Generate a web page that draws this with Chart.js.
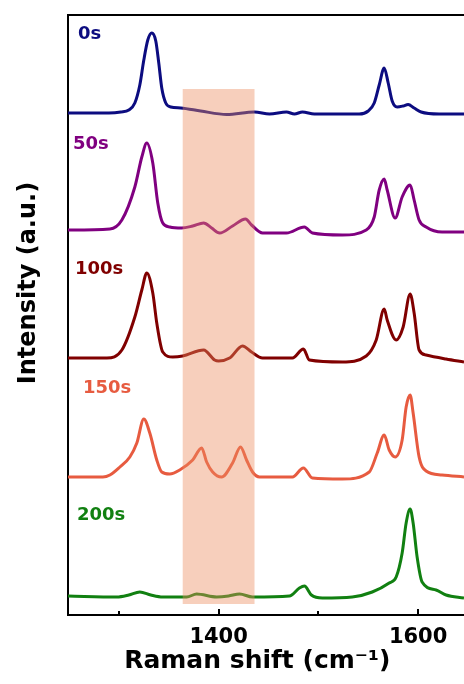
<!DOCTYPE html>
<html>
<head>
<meta charset="utf-8">
<script src="https://cdn.jsdelivr.net/npm/chart.js@4/dist/chart.umd.min.js"></script>
<style>
  html, body { margin: 0; padding: 0; background: #ffffff; }
  #wrap { width: 464px; height: 684px; }
</style>
</head>
<body>
<div id="wrap"><canvas id="c" width="464" height="684"></canvas></div>
<script>
// ---------- data ----------
const seriesNames = ['0s', '50s', '100s', '150s', '200s'];

// [Raman shift (cm-1), intensity (a.u., offset as plotted)]
const spectrum0s = [[1249,502],[1290,502],[1302,503],[1310,505],[1316,512],[1321,530],[1325,555],[1329,575],[1333,582],[1337,574],[1340,552],[1343,527],[1347,512],[1352,508],[1362,507],[1382,504],[1408,500.5],[1436,503],[1451,501],[1468,503],[1476,501],[1484,503],[1496,501],[1541,501],[1550,504],[1556,512],[1561,530],[1566,547],[1570,532],[1574,514],[1579,508],[1585,509],[1590,510.5],[1596,507],[1603,503],[1621,501],[1646,501]];
const spectrum50s = [[1249,385],[1291,386],[1303,395],[1316,428],[1323,458],[1328,472],[1334,452],[1339,412],[1344,392],[1351,388],[1363,387],[1374,389],[1385,392],[1393,387],[1401,382],[1414,389],[1427,396],[1433,390],[1444,382],[1468,382],[1486,388],[1494,382],[1524,380],[1548,385],[1556,398],[1561,425],[1566,436],[1569,425],[1577,397],[1584,418],[1592,430],[1596,415],[1601,395],[1608,388],[1624,383],[1646,383]];
const spectrum100s = [[1249,257],[1288,257],[1303,265],[1316,298],[1323,325],[1328,342],[1334,322],[1338,292],[1344,263],[1354,258],[1364,259],[1385,265],[1396,255],[1400,254],[1411,257],[1424,269],[1433,263],[1444,257],[1474,257],[1485,266],[1491,255],[1524,253],[1548,259],[1558,275],[1566,306],[1569,295],[1578,275],[1585,288],[1592,321],[1596,302],[1601,265],[1608,260],[1628,256],[1646,253]];
const spectrum150s = [[1249,138],[1284,138],[1291,140],[1301,148],[1311,158],[1318,172],[1325,196],[1331,182],[1338,155],[1343,143],[1351,141],[1361,145],[1374,155],[1383,167],[1388,153],[1394,143],[1403,138],[1414,152],[1422,168],[1428,155],[1434,143],[1441,138],[1474,138],[1485,147],[1494,137],[1524,136],[1551,143],[1559,162],[1566,180],[1571,165],[1577,158],[1584,175],[1588,208],[1592,220],[1595,202],[1601,158],[1608,144],[1624,140],[1646,138]];
const spectrum200s = [[1249,19],[1298,18],[1310,20],[1321,23],[1332,20],[1344,18],[1368,18],[1378,21],[1398,18],[1410,19],[1421,21],[1434,18],[1471,19],[1481,27],[1486,29],[1493,20],[1504,17],[1534,18],[1554,23],[1571,32],[1578,38],[1584,62],[1588,92],[1592,106],[1595,92],[1599,58],[1604,33],[1618,25],[1628,20],[1646,17]];

const tickValues = [1300, 1400, 1500, 1600];
const labelledTicks = [1400, 1600];
const bandShift = [1364, 1436];      // highlighted Raman-shift band
const bandIntensity = [11, 526];     // its vertical extent (a.u.)

// ---------- styles ----------
const colors = ['#0c0c80', '#800080', '#800000', '#e75b40', '#118011'];
const FONT = 'DejaVu Sans';
// label anchor points in data coordinates (left, baseline)
const labelAnchors = [[1259,576],[1254,466],[1256,341],[1264,222],[1258,95]];

const spectra = [spectrum0s, spectrum50s, spectrum100s, spectrum150s, spectrum200s];

const decorPlugin = {
  id: 'decor',
  afterDatasetsDraw(chart) {
    const { ctx, chartArea: a, scales: { x, y } } = chart;
    ctx.save();
    // highlighted band drawn over the lines
    ctx.fillStyle = 'rgba(235,140,95,0.42)';
    const bx0 = x.getPixelForValue(bandShift[0]), bx1 = x.getPixelForValue(bandShift[1]);
    const by0 = y.getPixelForValue(bandIntensity[1]), by1 = y.getPixelForValue(bandIntensity[0]);
    ctx.fillRect(bx0, by0, bx1 - bx0, by1 - by0);
    // top frame line
    ctx.strokeStyle = '#000';
    ctx.lineWidth = 2;
    ctx.beginPath();
    ctx.moveTo(a.left - 1, a.top);
    ctx.lineTo(a.right, a.top);
    ctx.stroke();
    // inward ticks
    tickValues.forEach(v => {
      const px = Math.round(x.getPixelForValue(v));
      const len = labelledTicks.includes(v) ? 6 : 4;
      ctx.beginPath();
      ctx.moveTo(px, a.bottom);
      ctx.lineTo(px, a.bottom - len);
      ctx.stroke();
    });
    // series labels
    ctx.font = 'bold 18px "' + FONT + '"';
    ctx.textAlign = 'left';
    ctx.textBaseline = 'alphabetic';
    seriesNames.forEach((n, i) => {
      ctx.fillStyle = colors[i];
      ctx.fillText(n, x.getPixelForValue(labelAnchors[i][0]), y.getPixelForValue(labelAnchors[i][1]));
    });
    // y axis title
    ctx.fillStyle = '#000';
    ctx.font = 'bold 24px "' + FONT + '"';
    ctx.translate(28.5, 283);
    ctx.rotate(-Math.PI / 2);
    ctx.textAlign = 'center';
    ctx.textBaseline = 'middle';
    ctx.fillText('Intensity (a.u.)', 0, 0);
    ctx.restore();
  }
};

new Chart(document.getElementById('c'), {
  type: 'line',
  data: {
    datasets: spectra.map((s, i) => ({
      label: seriesNames[i],
      data: s.map(p => ({ x: p[0], y: p[1] })),
      borderColor: colors[i],
      borderWidth: 3,
      pointRadius: 0,
      fill: false,
      cubicInterpolationMode: 'monotone'
    }))
  },
  options: {
    responsive: false,
    animation: false,
    devicePixelRatio: 1,
    layout: { padding: { left: 68, top: 15, right: 0, bottom: 0 } },
    plugins: { legend: { display: false }, tooltip: { enabled: false } },
    scales: {
      x: {
        type: 'linear',
        min: 1249,
        max: 1646,
        afterBuildTicks: (scale) => { scale.ticks = tickValues.map(v => ({ value: v })); },
        grid: { display: false, drawTicks: false },
        border: { display: true, color: '#000', width: 2 },
        ticks: {
          color: '#000',
          padding: 10,
          maxRotation: 0,
          autoSkip: false,
          font: { family: FONT, size: 21, weight: 'bold', lineHeight: 1.2 },
          callback: (v) => labelledTicks.includes(v) ? String(v) : ''
        },
        title: {
          display: true,
          text: 'Raman shift (cm\u207B\u00B9)  ',
          color: '#000',
          padding: { top: -13, bottom: 8 },
          font: { family: FONT, size: 25, weight: 'bold', lineHeight: 1.152 }
        }
      },
      y: {
        type: 'linear',
        min: 0,
        max: 600,
        grid: { display: false, drawTicks: false },
        border: { display: true, color: '#000', width: 2 },
        ticks: { display: false }
      }
    }
  },
  plugins: [decorPlugin]
});
</script>
</body>
</html>
